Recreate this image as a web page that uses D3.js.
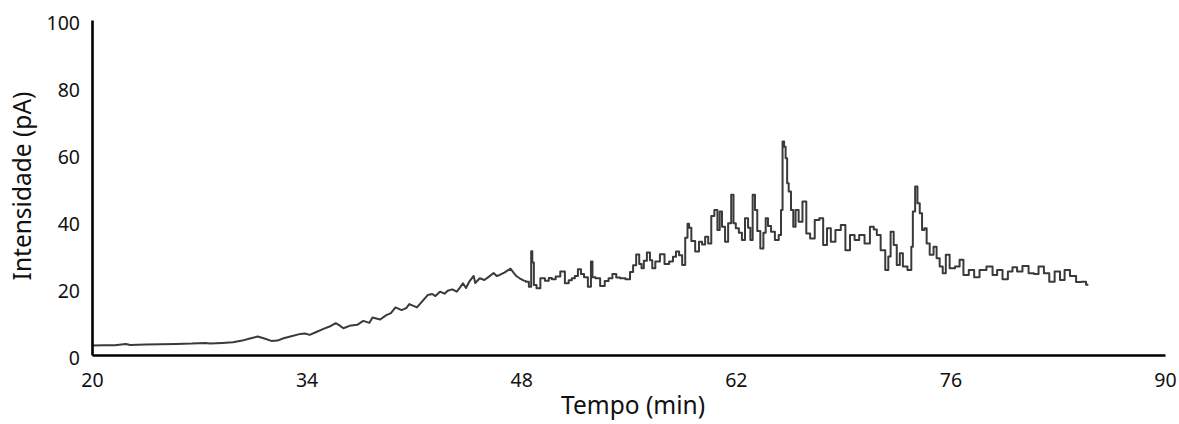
<!DOCTYPE html>
<html>
<head>
<meta charset="utf-8">
<script src="https://cdn.jsdelivr.net/npm/d3@7"></script>
<style>
  html, body { margin: 0; padding: 0; background: #fff; }
  svg { display: block; }
  .tick text { font-family: "Noto Sans", sans-serif; font-size: 19.5px; fill: #111; }
  .title { font-family: "Noto Sans", sans-serif; font-size: 24.5px; fill: #111; }
</style>
</head>
<body>
<svg id="chart" width="1179" height="424"></svg>
<script>
// Retention time (min) of each sampled point of the trace
const tempo = [
  20.0, 20.8, 21.5, 22.2, 22.5, 23.5, 24.5, 25.5, 26.5, 27.4, 27.7, 28.5, 29.2, 29.8,
  30.3, 30.8, 31.2, 31.7, 32.1, 32.5, 33.0, 33.6, 33.9, 34.2, 34.6, 35.1, 35.5, 35.9,
  36.1, 36.4, 36.8, 37.3, 37.7, 38.1, 38.3, 38.8, 39.2, 39.5, 39.8, 40.2, 40.5, 40.7,
  41.2, 41.5, 41.9, 42.2, 42.4, 42.7, 43.0, 43.2, 43.5, 43.8, 44.0, 44.2, 44.4, 44.6,
  44.9, 45.0, 45.3, 45.6, 45.9, 46.2, 46.4, 46.6, 46.9, 47.1, 47.3, 47.5, 47.7, 47.9,
  48.2, 48.4, 48.6, 48.7, 48.75, 48.9, 49.1, 49.4, 49.7, 49.9, 50.1, 50.4, 50.7, 51.0,
  51.2, 51.4, 51.6, 51.8, 52.0, 52.2, 52.5, 52.6, 52.7, 53.0, 53.3, 53.6, 53.8, 54.1,
  54.3, 54.6, 55.0, 55.2, 55.4, 55.6, 55.8, 55.9, 56.1, 56.3, 56.5, 56.6, 56.9, 57.2,
  57.5, 57.8, 58.0, 58.2, 58.4, 58.6, 58.8, 58.9, 59.0, 59.2, 59.5, 59.7, 59.9, 60.1,
  60.3, 60.5, 60.7, 60.9, 61.0, 61.2, 61.4, 61.6, 61.8, 61.9, 62.1, 62.3, 62.5, 62.7,
  62.9, 63.0, 63.2, 63.3, 63.5, 63.7, 63.9, 64.0, 64.2, 64.4, 64.7, 64.9, 65.0, 65.1,
  65.2, 65.3, 65.4, 65.5, 65.7, 65.8, 66.0, 66.2, 66.5, 66.7, 67.0, 67.3, 67.6, 67.8,
  68.1, 68.3, 68.7, 69.0, 69.3, 69.6, 69.9, 70.2, 70.6, 70.9, 71.1, 71.3, 71.6, 71.9,
  72.0, 72.2, 72.4, 72.6, 72.8, 73.0, 73.4, 73.5, 73.6, 73.8, 73.9, 74.1, 74.2, 74.4,
  74.5, 74.8, 75.0, 75.2, 75.4, 75.6, 75.8, 76.1, 76.5, 76.7, 77.0, 77.4, 77.7, 78.1,
  78.6, 78.9, 79.2, 79.6, 79.9, 80.2, 80.5, 80.9, 81.3, 81.6, 81.9, 82.3, 82.6, 83.0,
  83.3, 83.6, 84.0, 84.4, 84.7, 85.0
];

// Detector signal (pA) at each time above
const intensidade = [
  2.8, 2.9, 2.9, 3.3, 3.0, 3.1, 3.2, 3.3, 3.4, 3.6, 3.4, 3.6, 3.8, 4.3,
  4.9, 5.5, 5.0, 4.2, 4.3, 5.0, 5.6, 6.3, 6.4, 6.0, 6.8, 7.8, 8.5, 9.5,
  9.0, 8.0, 8.7, 9.0, 10.2, 9.6, 11.2, 10.6, 11.9, 12.5, 14.2, 13.4, 14.0, 15.2,
  14.2, 15.8, 17.9, 18.2, 17.6, 18.9, 18.3, 19.2, 19.6, 18.9, 20.1, 21.4, 20.0, 21.8,
  23.6, 21.5, 22.9, 22.4, 23.4, 24.5, 23.6, 23.9, 24.6, 25.2, 25.8, 24.6, 23.5, 22.9,
  22.1, 21.9, 20.4, 31.0, 27.6, 20.9, 19.9, 22.9, 22.2, 23.0, 22.6, 23.4, 24.9, 21.4,
  22.3, 22.9, 23.6, 25.6, 24.2, 23.2, 20.4, 27.9, 23.2, 22.9, 20.6, 22.1, 22.9, 24.2,
  23.1, 22.9, 22.6, 24.8, 26.8, 30.0, 27.2, 25.9, 28.1, 30.6, 28.3, 25.9, 27.9, 30.1,
  27.2, 27.9, 29.3, 30.9, 29.8, 26.9, 35.0, 39.2, 38.0, 34.0, 30.9, 33.8, 33.0, 35.3,
  33.3, 41.5, 43.3, 37.3, 42.8, 38.3, 33.8, 39.3, 47.8, 39.3, 37.8, 36.5, 34.3, 40.8,
  38.0, 34.3, 47.8, 43.3, 37.0, 31.8, 36.5, 40.8, 38.5, 36.8, 34.3, 35.8, 43.3, 63.7,
  62.2, 58.7, 51.3, 48.8, 43.3, 38.3, 43.3, 39.8, 45.8, 36.3, 34.8, 40.3, 40.8, 32.8,
  37.8, 33.8, 37.3, 38.8, 31.3, 35.8, 34.3, 35.8, 33.3, 38.3, 37.5, 35.8, 31.3, 25.4,
  29.4, 36.8, 32.8, 26.9, 30.4, 26.4, 25.4, 32.3, 42.8, 50.3, 45.3, 42.3, 37.3, 37.8,
  33.3, 29.9, 32.3, 28.9, 26.4, 24.4, 29.9, 25.9, 26.4, 28.4, 23.9, 25.4, 23.2, 25.4,
  26.4, 23.9, 25.4, 22.6, 24.9, 26.2, 24.9, 26.6, 24.4, 24.2, 26.4, 24.4, 21.9, 24.9,
  22.4, 25.4, 23.6, 21.8, 21.9, 21.0
];

const xTicks = [20, 34, 48, 62, 76, 90];
const yTicks = [0, 20, 40, 60, 80, 100];

// Early gradient is a smooth drift; after it the signal is drawn stepwise
const stepStart = 48.2;

const svg = d3.select("#chart");

const x = d3.scaleLinear().domain([20, 90]).range([92, 1165]);
const y = d3.scaleLinear().domain([0, 100]).range([355, 20]);

const points = tempo.map((t, i) => [t, intensidade[i]]);
const smoothPart = points.filter(d => d[0] <= stepStart);
const noisyPart = points.filter(d => d[0] >= stepStart);

const lineSmooth = d3.line()
  .x(d => x(d[0]))
  .y(d => y(d[1]));
const lineStep = d3.line()
  .curve(d3.curveStep)
  .x(d => x(d[0]))
  .y(d => y(d[1]));

const trace = svg.append("g")
  .attr("fill", "none")
  .attr("stroke", "#3a3a3a")
  .attr("stroke-width", 2)
  .attr("stroke-linejoin", "round");

trace.append("path").datum(smoothPart).attr("d", lineSmooth);
trace.append("path").datum(noisyPart).attr("d", lineStep);

// Axes
const yAxis = svg.append("g")
  .attr("transform", `translate(${x(20)},0)`)
  .call(d3.axisLeft(y).tickValues(yTicks).tickSize(0).tickSizeOuter(0).tickPadding(12));
yAxis.selectAll(".tick text").attr("y", 3);

const xAxis = svg.append("g")
  .attr("transform", `translate(0,${y(0)})`)
  .call(d3.axisBottom(x).tickValues(xTicks).tickSize(0).tickSizeOuter(0).tickPadding(18));

[yAxis, xAxis].forEach(g => {
  g.select(".domain").attr("stroke", "#000").attr("stroke-width", 2.6);
});

// Axis titles
svg.append("text")
  .attr("class", "title")
  .attr("x", 633)
  .attr("y", 414)
  .attr("text-anchor", "middle")
  .text("Tempo (min)");

svg.append("text")
  .attr("class", "title")
  .attr("transform", "translate(31,186) rotate(-90)")
  .attr("text-anchor", "middle")
  .text("Intensidade (pA)");
</script>
</body>
</html>
